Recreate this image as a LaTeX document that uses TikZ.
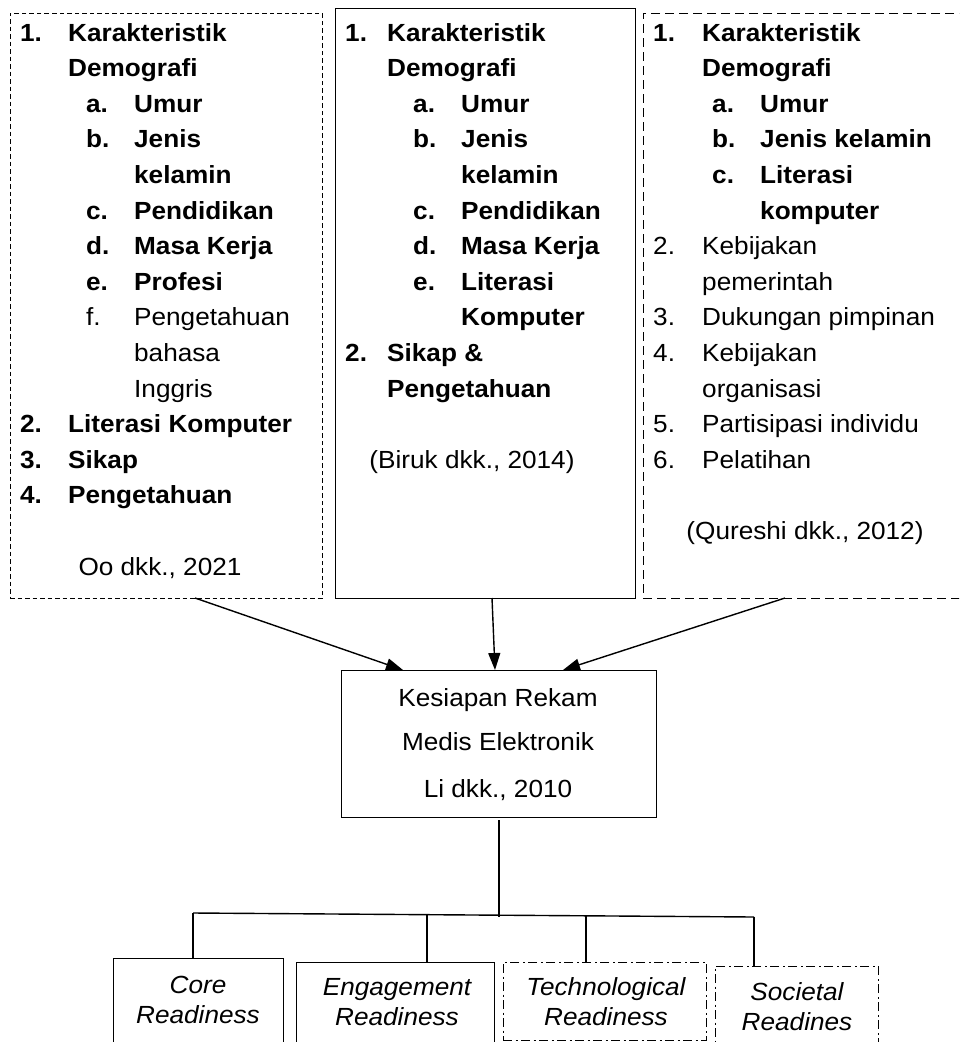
\documentclass[tikz,border=0pt]{standalone}
\usepackage{fontspec}
\setmainfont{Liberation Sans}[FakeStretch=1.055]
\usetikzlibrary{arrows.meta}
\tikzset{
  fnt/.style={font=\fontsize{24.8}{30}\selectfont},
  tx/.style={fnt, anchor=base west, inner sep=0pt},
  bx/.style={tx, font=\fontsize{24.8}{30}\selectfont\bfseries},
  cx/.style={fnt, anchor=base, inner sep=0pt},
  ix/.style={cx, font=\fontsize{24.8}{30}\selectfont\itshape},
  frame/.style={draw=black, line width=1pt, inner sep=0pt},
  shortdash/.style={frame, dash pattern=on 4.5pt off 3pt},
  longdash/.style={frame, dash pattern=on 9pt off 5pt},
  dashdotted/.style={frame, dash pattern=on 9pt off 3.5pt on 2pt off 3.5pt},
  conn/.style={draw=black, line width=1.4pt},
  arr/.style={conn, -{Triangle[length=17pt,width=12pt]}}
}
\begin{document}
\begin{tikzpicture}[x=1pt,y=-1pt]
\useasboundingbox (0,0) rectangle (959,1042);
\clip (0,0) rectangle (959,1042);

% ---------- top boxes ----------
\node[shortdash, minimum width=312pt, minimum height=585pt] (b1) at (166,305.5) {};
\node[frame, minimum width=300pt, minimum height=590pt] (b2) at (485,303) {};
\node[longdash, minimum width=332pt, minimum height=585pt] (b3) at (809,305.5) {};

% box 1 text
\node[bx] (p1n1) at (20,41.0) {1.};
\node[bx] (p1t1) at (68,41.0) {Karakteristik};
\node[bx] (p1t2) at (68,76.6) {Demografi};
\node[bx] (p1na) at (86,112.2) {a.};
\node[bx] (p1ta) at (134,112.2) {Umur};
\node[bx] (p1nb) at (86,147.8) {b.};
\node[bx] (p1tb) at (134,147.8) {Jenis};
\node[bx] (p1tb2) at (134,183.4) {kelamin};
\node[bx] (p1nc) at (86,219.0) {c.};
\node[bx] (p1tc) at (134,219.0) {Pendidikan};
\node[bx] (p1nd) at (86,254.6) {d.};
\node[bx] (p1td) at (134,254.6) {Masa Kerja};
\node[bx] (p1ne) at (86,290.2) {e.};
\node[bx] (p1te) at (134,290.2) {Profesi};
\node[tx] (p1nf) at (86,325.8) {f.};
\node[tx] (p1tf) at (134,325.8) {Pengetahuan};
\node[tx] (p1tf2) at (134,361.4) {bahasa};
\node[tx] (p1tf3) at (134,397.0) {Inggris};
\node[bx] (p1n2) at (20,432.6) {2.};
\node[bx] (p1t2b) at (68,432.6) {Literasi Komputer};
\node[bx] (p1n3) at (20,468.2) {3.};
\node[bx] (p1t3) at (68,468.2) {Sikap};
\node[bx] (p1n4) at (20,503.8) {4.};
\node[bx] (p1t4) at (68,503.8) {Pengetahuan};
\node[cx] (p1src) at (160,575.0) {Oo dkk., 2021};

% box 2 text
\node[bx] (p2n1) at (345,41.0) {1.};
\node[bx] (p2t1) at (387,41.0) {Karakteristik};
\node[bx] (p2t2) at (387,76.6) {Demografi};
\node[bx] (p2na) at (413,112.2) {a.};
\node[bx] (p2ta) at (461,112.2) {Umur};
\node[bx] (p2nb) at (413,147.8) {b.};
\node[bx] (p2tb) at (461,147.8) {Jenis};
\node[bx] (p2tb2) at (461,183.4) {kelamin};
\node[bx] (p2nc) at (413,219.0) {c.};
\node[bx] (p2tc) at (461,219.0) {Pendidikan};
\node[bx] (p2nd) at (413,254.6) {d.};
\node[bx] (p2td) at (461,254.6) {Masa Kerja};
\node[bx] (p2ne) at (413,290.2) {e.};
\node[bx] (p2te) at (461,290.2) {Literasi};
\node[bx] (p2te2) at (461,325.8) {Komputer};
\node[bx] (p2n2) at (345,361.4) {2.};
\node[bx] (p2t2b) at (387,361.4) {Sikap \&};
\node[bx] (p2t2c) at (387,397.0) {Pengetahuan};
\node[cx] (p2src) at (472,468.2) {(Biruk dkk., 2014)};

% box 3 text
\node[bx] (p3n1) at (653,41.0) {1.};
\node[bx] (p3t1) at (702,41.0) {Karakteristik};
\node[bx] (p3t2) at (702,76.6) {Demografi};
\node[bx] (p3na) at (712,112.2) {a.};
\node[bx] (p3ta) at (760,112.2) {Umur};
\node[bx] (p3nb) at (712,147.8) {b.};
\node[bx] (p3tb) at (760,147.8) {Jenis kelamin};
\node[bx] (p3nc) at (712,183.4) {c.};
\node[bx] (p3tc) at (760,183.4) {Literasi};
\node[bx] (p3tc2) at (760,219.0) {komputer};
\node[tx] (p3n2) at (653,254.6) {2.};
\node[tx] (p3t2b) at (702,254.6) {Kebijakan};
\node[tx] (p3t2c) at (702,290.2) {pemerintah};
\node[tx] (p3n3) at (653,325.8) {3.};
\node[tx] (p3t3) at (702,325.8) {Dukungan pimpinan};
\node[tx] (p3n4) at (653,361.4) {4.};
\node[tx] (p3t4) at (702,361.4) {Kebijakan};
\node[tx] (p3t4b) at (702,397.0) {organisasi};
\node[tx] (p3n5) at (653,432.6) {5.};
\node[tx] (p3t5) at (702,432.6) {Partisipasi individu};
\node[tx] (p3n6) at (653,468.2) {6.};
\node[tx] (p3t6) at (702,468.2) {Pelatihan};
\node[cx] (p3src) at (805,539.4) {(Qureshi dkk., 2012)};

% ---------- centre box ----------
\node[frame, minimum width=315pt, minimum height=147pt] (c) at (498.5,743.5) {};
\node[cx] (c1) at (498,706) {Kesiapan Rekam};
\node[cx] (c2) at (498,750) {Medis Elektronik};
\node[cx] (c3) at (498,797) {Li dkk., 2010};

% arrows
\coordinate (a1s) at (195,598); \coordinate (a1e) at (403,670);
\coordinate (a2s) at (492,598); \coordinate (a2e) at (495,670);
\coordinate (a3s) at (785,598); \coordinate (a3e) at (563,670);
\draw[arr] (a1s) -- (a1e);
\draw[arr] (a2s) -- (a2e);
\draw[arr] (a3s) -- (a3e);

% ---------- bottom boxes ----------
\node[frame, minimum width=170pt, minimum height=88pt] (core) at (198,1002) {};
\node[frame, minimum width=198pt, minimum height=84pt] (eng) at (395,1004) {};
\node[dashdotted, minimum width=203pt, minimum height=78pt] (tech) at (604.5,1001) {};
\node[dashdotted, minimum width=163pt, minimum height=80pt] (soc) at (796.5,1006) {};

\node[ix] (core1) at (198,993) {Core};
\node[ix] (core2) at (198,1023) {Readiness};
\node[ix] (eng1) at (397,995) {Engagement};
\node[ix] (eng2) at (397,1025) {Readiness};
\node[ix] (tech1) at (606,995) {Technological};
\node[ix] (tech2) at (606,1025) {Readiness};
\node[ix] (soc1) at (797,1000) {Societal};
\node[ix] (soc2) at (797,1030) {Readines};

% tree connectors
\coordinate (v0) at (499,820); \coordinate (v1) at (499,917);
\coordinate (hl) at (193,913); \coordinate (hr) at (754,917);
\coordinate (de) at (427,915); \coordinate (dt) at (586,916);
\draw[conn] (v0) -- (v1);
\draw[conn] (hl) -- (hr);
\draw[conn] (hl) -- (hl |- core.north);
\draw[conn] (de) -- (de |- eng.north);
\draw[conn] (dt) -- (dt |- tech.north);
\draw[conn] (hr) -- (hr |- soc.north);
\end{tikzpicture}
\end{document}
